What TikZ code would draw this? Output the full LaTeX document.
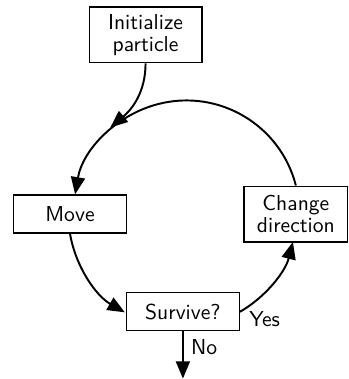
\documentclass[tikz,border=0pt]{standalone}
\usetikzlibrary{arrows.meta, calc}
\begin{document}
\begin{tikzpicture}[
    font=\sffamily\fontsize{10}{10.5}\selectfont,
    stepbox/.style={draw, line width=0.5pt, minimum width=52.3pt, minimum height=17.6pt,
      inner xsep=6pt, inner ysep=2pt, align=center},
    tallbox/.style={stepbox, minimum height=25.9pt},
    flow/.style={line width=0.9pt, -{Triangle[length=8pt, width=6.5pt]}}
  ]
  \def\rad{52.3pt}
  \useasboundingbox (0,0) rectangle (161.6pt,-175.5pt);
  %centre of the loop
  \coordinate (c) at (84.7pt,-99.1pt);
  %boxes
  \node[tallbox] (init) at (67.4pt,-16.2pt) {Initialize\\particle};
  \node[stepbox] (move) at ($(c)+(180:\rad)$) {Move};
  \node[tallbox, minimum width=0pt] (turn) at ($(c)+(0:\rad)$) {Change\\direction};
  \node[stepbox] (surv) at ($(c)+(270:0.866*\rad)$) {Survive?};
  \coordinate (join) at ($(c)+(130:\rad)$);
  \coordinate (exit) at (84.7pt,-175.3pt);
  %loop
  \draw[flow] (init.south) to[out=-90, in=40] (join);
  \draw[flow] (turn.north) arc[start angle=14.3, end angle=170.3, radius=\rad];
  \draw[flow] (move.south) arc[start angle=189.7, end angle=240, radius=\rad];
  \draw[flow] (surv.east) arc[start angle=300, end angle=345.7, radius=\rad];
  \node[anchor=north west, inner sep=0pt] (yes) at ($(surv.east)+(4.2pt,0.5pt)$) {Yes};
  %way out
  \draw[flow] (surv.south) -- node[pos=0, below right] (no) {No} (exit);
\end{tikzpicture}
\end{document}
